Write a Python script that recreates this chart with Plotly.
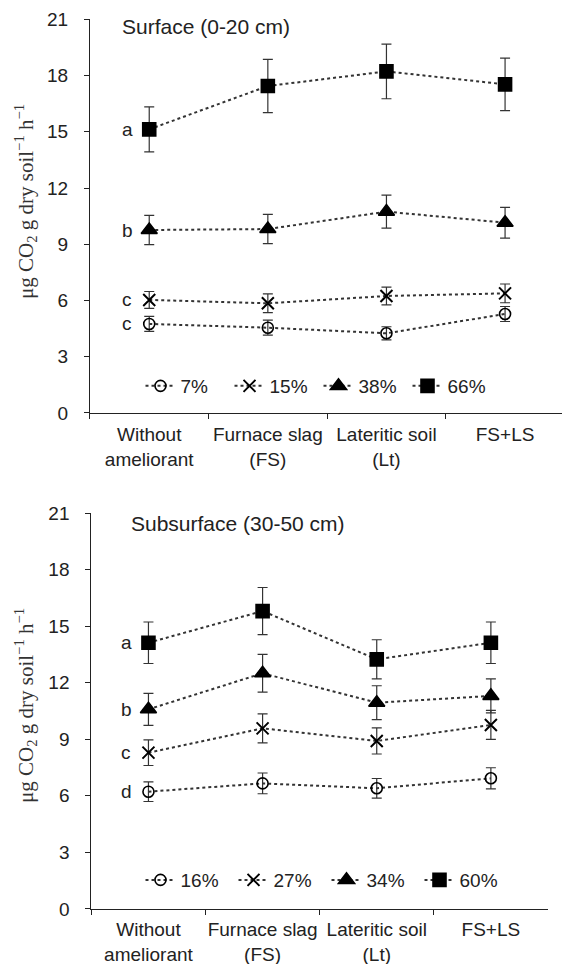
import plotly.graph_objects as go

categories = ["Without<br>ameliorant", "Furnace slag<br>(FS)", "Lateritic soil<br>(Lt)", "FS+LS"]

# Surface (0-20 cm)
top_names = ["7%", "15%", "38%", "66%"]
top_vals = [
    [4.75, 4.55, 4.25, 5.28],
    [6.03, 5.85, 6.24, 6.38],
    [9.76, 9.81, 10.74, 10.15],
    [15.13, 17.44, 18.22, 17.53],
]
top_err = [
    [0.40, 0.40, 0.35, 0.40],
    [0.45, 0.50, 0.47, 0.50],
    [0.78, 0.78, 0.88, 0.82],
    [1.20, 1.42, 1.46, 1.40],
]
top_letters = ["c", "c", "b", "a"]

# Subsurface (30-50 cm)
bot_names = ["16%", "27%", "34%", "60%"]
bot_vals = [
    [6.22, 6.66, 6.40, 6.93],
    [8.29, 9.58, 8.91, 9.76],
    [10.59, 12.50, 10.94, 11.30],
    [14.12, 15.80, 13.24, 14.12],
]
bot_err = [
    [0.52, 0.55, 0.52, 0.56],
    [0.68, 0.77, 0.69, 0.77],
    [0.85, 1.00, 0.90, 0.90],
    [1.10, 1.25, 1.04, 1.10],
]
bot_letters = ["d", "c", "b", "a"]

y_ticks = [0, 3, 6, 9, 12, 15, 18, 21]

symbols = ["circle-open", "x-thin-open", "triangle-up", "square"]
sizes = [11, 12, 14, 13]

fig = go.Figure()

def add_panel(names, vals, errs, xaxis, yaxis, legend):
    for i, name in enumerate(names):
        fig.add_trace(go.Scatter(
            x=categories, y=vals[i], name=name, mode="lines+markers",
            xaxis=xaxis, yaxis=yaxis, legend=legend,
            line=dict(color="#333333", width=2, dash="dot"),
            marker=dict(symbol=symbols[i], size=sizes[i], color="black",
                        line=dict(color="black", width=2 if i == 1 else 1.6)),
            error_y=dict(type="data", array=errs[i], color="#333333",
                         thickness=1.2, width=5),
        ))

add_panel(top_names, top_vals, top_err, "x", "y", "legend")
add_panel(bot_names, bot_vals, bot_err, "x2", "y2", "legend2")

font_sans = "Liberation Sans, Arial, sans-serif"
axis_common = dict(showline=True, linecolor="#222222", linewidth=1.2,
                   ticks="outside", tickcolor="#222222", ticklen=5,
                   showgrid=False, zeroline=False,
                   tickfont=dict(family=font_sans, size=19, color="#222222"))

fig.update_layout(
    width=562, height=964,
    margin=dict(l=0, r=0, t=0, b=0),
    paper_bgcolor="white", plot_bgcolor="white",
    showlegend=True,
    xaxis=dict(domain=[0.160, 1.0], anchor="y", type="category",
               range=[-0.5, 3.48], tickson="boundaries", automargin=False,
               tickangle=0, ticklabelstandoff=4, **axis_common),
    yaxis=dict(domain=[0.5716, 0.98], anchor="x", range=[0, 21],
               tickvals=y_ticks, ticklabelstandoff=12, automargin=False,
               **axis_common),
    xaxis2=dict(domain=[0.1626, 0.975], anchor="y2", type="category",
                range=[-0.5, 3.5], tickson="boundaries", automargin=False,
                tickangle=0, ticklabelstandoff=3, **axis_common),
    yaxis2=dict(domain=[0.0571, 0.4678], anchor="x2", range=[0, 21],
                tickvals=y_ticks, ticklabelstandoff=12, automargin=False,
                **axis_common),
    legend=dict(orientation="h", x=0.25, y=0.5996, xanchor="left", yanchor="middle",
                font=dict(family=font_sans, size=19, color="#222222"),
                bgcolor="rgba(0,0,0,0)", itemwidth=30, tracegroupgap=0,
                entrywidth=44),
    legend2=dict(orientation="h", x=0.25, y=0.0871, xanchor="left", yanchor="middle",
                 font=dict(family=font_sans, size=19, color="#222222"),
                 bgcolor="rgba(0,0,0,0)", itemwidth=30, tracegroupgap=0,
                 entrywidth=48),
)

ann = []
for i, letter in enumerate(top_letters):
    ann.append(dict(x=categories[0], y=top_vals[i][0], xref="x", yref="y",
                    text=letter, showarrow=False, xshift=-22,
                    font=dict(family=font_sans, size=19, color="#222222")))
for i, letter in enumerate(bot_letters):
    ann.append(dict(x=categories[0], y=bot_vals[i][0], xref="x2", yref="y2",
                    text=letter, showarrow=False, xshift=-22,
                    font=dict(family=font_sans, size=19, color="#222222")))

ann.append(dict(x=120 / 562, y=1 - 26 / 964, xref="paper", yref="paper",
                text="Surface (0-20 cm)", showarrow=False, xanchor="left", yanchor="middle",
                font=dict(family=font_sans, size=21, color="#222222")))
ann.append(dict(x=129 / 562, y=1 - 523 / 964, xref="paper", yref="paper",
                text="Subsurface (30-50 cm)", showarrow=False, xanchor="left", yanchor="middle",
                font=dict(family=font_sans, size=21, color="#222222")))

ytitle = "μg CO<sub>2</sub> g dry soil<sup>−1</sup> h<sup>−1</sup>"
for yc in (202, 706):
    ann.append(dict(x=25 / 562, y=1 - yc / 964, xref="paper", yref="paper",
                    text=ytitle, showarrow=False, textangle=-90,
                    xanchor="center", yanchor="middle",
                    font=dict(family="Liberation Serif, Times New Roman, serif",
                              size=21, color="#333333")))

fig.update_layout(annotations=ann)

fig.write_html("out.html", config={"displayModeBar": False},
               post_script="document.body.style.margin='0';document.body.style.overflow='hidden';")
